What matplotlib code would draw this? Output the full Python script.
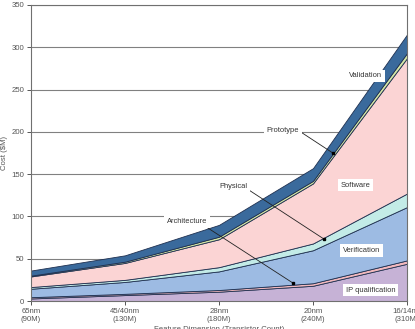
import numpy as np
import matplotlib
matplotlib.use('Agg')
import matplotlib.pyplot as plt

# setup data
nodes = ['65nm\n(90M)', '45/40nm\n(130M)', '28nm\n(180M)', '20nm\n(240M)', '16/14nm\n(310M)']

ip_qual      = [3, 7, 11, 18, 44]
architecture = [1.5, 1.5, 2, 3, 4]
verification = [10, 14, 22, 39, 63]
physical     = [2, 2.5, 5, 8, 16]
software     = [12.5, 20, 33, 71, 160]
prototype    = [1, 1.5, 3, 3, 6]
validation   = [6, 7.5, 14, 15, 22]

layers = [ip_qual, architecture, verification, physical, software, prototype, validation]
colors = ['#c6b2d6', '#f2b9bd', '#9dbbe3', '#c3ebe7', '#fbd4d4', '#d3e6a6', '#3a6a9c']

plt.rcParams['font.family'] = ['Liberation Sans', 'DejaVu Sans']

fig = plt.figure(figsize=(4.15, 3.29), dpi=100)
ax = fig.add_axes([0.0747, 0.0851, 0.906, 0.900])

x = np.arange(len(nodes))
ax.stackplot(x, *layers, colors=colors, edgecolor='#1f3050', linewidth=0.6, zorder=2)

ax.set_xlim(0, len(nodes) - 1)
ax.set_ylim(0, 350)
ax.set_yticks(np.arange(0, 351, 50))
ax.set_xticks(x)
ax.set_xticklabels(nodes)
ax.tick_params(labelsize=5.6, colors='#555555', length=3, width=0.7, pad=2)
ax.yaxis.grid(True, color='#808080', linewidth=0.8, zorder=0)
ax.set_axisbelow(True)
for s in ax.spines.values():
    s.set_color('#707070')
    s.set_linewidth(0.8)

ax.set_ylabel('Cost ($M)', fontsize=5.6, color='#555555', labelpad=2)
ax.set_xlabel('Feature Dimension (Transistor Count)', fontsize=5.6, color='#555555', labelpad=2)

box = dict(facecolor='white', edgecolor='none', pad=2)
lbl = dict(fontsize=5.4, color='#333333', ha='center', va='center', bbox=box, zorder=5)

# labels with leader lines
ax.annotate('Prototype', xy=(3.21, 175), xytext=(2.68, 201),
            arrowprops=dict(arrowstyle='-', color='#222222', lw=0.6, shrinkA=0, shrinkB=0,
                            relpos=(1, 0.5)), **lbl)
ax.annotate('Physical', xy=(3.12, 73), xytext=(2.15, 135),
            arrowprops=dict(arrowstyle='-', color='#222222', lw=0.6, shrinkA=0, shrinkB=0,
                            relpos=(1, 0.2)), **lbl)
ax.annotate('Architecture', xy=(2.79, 21), xytext=(1.66, 94),
            arrowprops=dict(arrowstyle='-', color='#222222', lw=0.6, shrinkA=0, shrinkB=0,
                            relpos=(0.9, 0)), **lbl)
for px, py in [(3.21, 175), (3.12, 73), (2.79, 21)]:
    ax.plot(px, py, 's', color='black', markersize=1.5, zorder=6)

ax.text(3.56, 266, 'Validation', **lbl)
ax.text(3.45, 137, 'Software', **lbl)
ax.text(3.52, 60, 'Verification', **lbl)
ax.text(3.61, 13, 'IP qualification', **lbl)

fig.savefig('out.png', dpi=100)
